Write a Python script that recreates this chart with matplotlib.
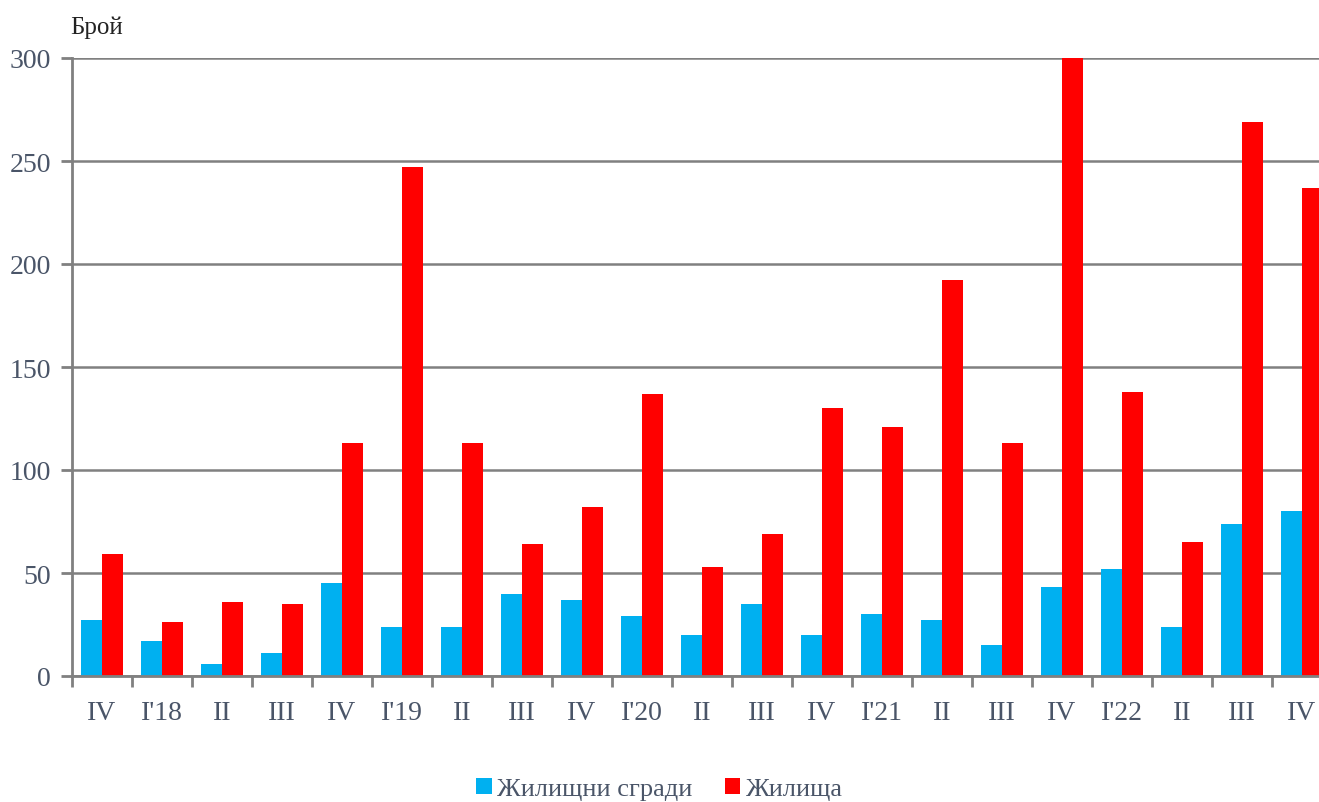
import matplotlib
matplotlib.use("Agg")
import matplotlib.pyplot as plt
import numpy as np

# Тримесечия
categories = ["IV", "I'18", "II", "III", "IV", "I'19", "II", "III", "IV", "I'20", "II",
              "III", "IV", "I'21", "II", "III", "IV", "I'22", "II", "III", "IV"]
buildings = [27, 17, 6, 11, 45, 24, 24, 40, 37, 29, 20,
             35, 20, 30, 27, 15, 43, 52, 24, 74, 80]
dwellings = [59, 26, 36, 35, 113, 247, 113, 64, 82, 137, 53,
             69, 130, 121, 192, 113, 300, 138, 65, 269, 237]

plt.rcParams['font.family'] = ['Liberation Serif', 'DejaVu Serif']

fig = plt.figure(figsize=(13.19, 8.03), dpi=100)
ax = fig.add_axes([72 / 1319, 1 - 677 / 803, 1260 / 1319, 618 / 803])

x = np.arange(len(categories))
w = 0.35
ax.bar(x - w / 2, buildings, w, color='#00B0F0', label='Жилищни сгради', zorder=3)
ax.bar(x + w / 2, dwellings, w, color='#FF0000', label='Жилища', zorder=3)

ax.set_xlim(-0.5, len(categories) - 0.5)
ax.set_ylim(0, 300)
ax.set_yticks(range(0, 301, 50))
ax.yaxis.grid(True, color='#808080', linewidth=1.8, zorder=0)

ax.set_xticks(x)
ax.set_xticklabels(categories)
ax.set_xticks(np.arange(-0.5, len(categories), 1), minor=True)
ax.tick_params(axis='x', which='major', length=0, pad=17, labelsize=20, labelcolor='#4a5568')
ax.tick_params(axis='x', which='minor', length=8, width=2, color='#808080')
ax.tick_params(axis='y', length=8, width=2, color='#808080', pad=7, labelsize=20, labelcolor='#4a5568')

for s in ['top', 'right']:
    ax.spines[s].set_visible(False)
for s in ['left', 'bottom']:
    ax.spines[s].set_color('#808080')
    ax.spines[s].set_linewidth(2)
    ax.spines[s].set_zorder(4)

fig.text(70 / 1319, 1 - 28 / 803, 'Брой', fontsize=18, color='#222222', va='center', ha='left')

fig.legend(loc='center', bbox_to_anchor=(0.5, 1 - 790 / 803), ncol=2, frameon=False,
           fontsize=19, labelcolor='#4a5568', handlelength=0.6, handleheight=0.6,
           handletextpad=0.2, columnspacing=1.2)

fig.savefig('out.png', dpi=100)
